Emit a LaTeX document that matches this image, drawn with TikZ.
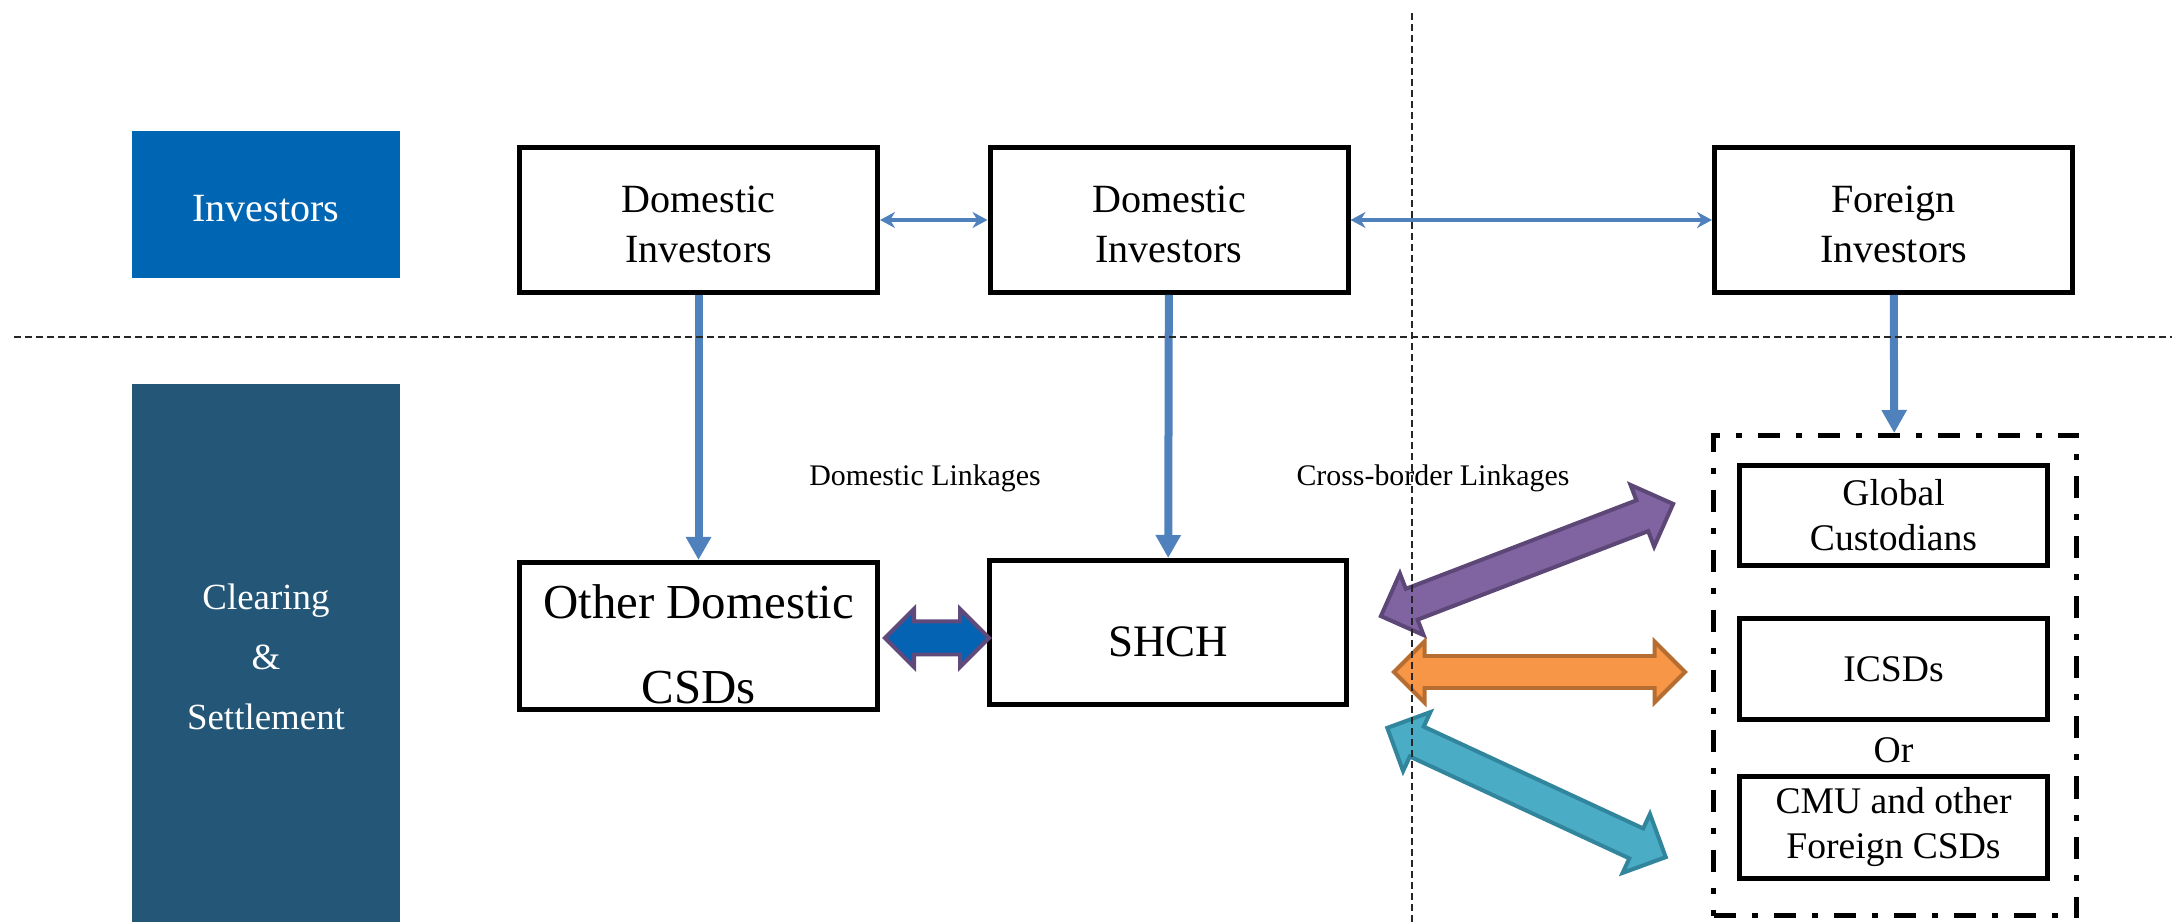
\documentclass[tikz,border=0pt]{standalone}
\usepackage{fontspec}
\setmainfont{Liberation Serif}
\usetikzlibrary{positioning, arrows.meta, shapes.arrows}
\definecolor{invblue}{HTML}{0066B3}
\definecolor{clrblue}{HTML}{245678}
\definecolor{linkblue}{HTML}{4F81BD}
\definecolor{bluefill}{HTML}{0563B4}
\definecolor{blueline}{HTML}{5F4A7B}
\definecolor{purplefill}{HTML}{8064A2}
\definecolor{purpleline}{HTML}{5C4776}
\definecolor{orangefill}{HTML}{F79646}
\definecolor{orangeline}{HTML}{B66D31}
\definecolor{tealfill}{HTML}{4BACC6}
\definecolor{tealline}{HTML}{31859C}
\tikzset{>={Stealth[length=0.15cm,width=0.16cm]},
every node/.style={align=center},
band/.style={fill=#1, text=white, minimum width=2.68cm, inner sep=0pt},
party/.style={draw, line width=0.05cm, minimum width=3.58cm, minimum height=1.45cm},
partytext/.style={font=\fontsize{11.4}{14.2}\selectfont},
agent/.style={draw, line width=0.05cm, minimum width=3.08cm, minimum height=1cm, font=\fontsize{10.7}{12.8}\selectfont},
link/.style={<->, draw=linkblue, line width=0.045cm},
feed/.style={-{Triangle[length=0.23cm,width=0.24cm]}, draw=linkblue, line width=0.08cm},
fat/.style={double arrow, fill=#1fill, draw=#1line, line width=0.04cm, inner xsep=0pt, minimum width=0pt},
guide/.style={dash pattern=on 0.07cm off 0.04cm, line width=0.015cm, black!85},
}

\begin{document}
\begin{tikzpicture}
    \useasboundingbox (0,0) rectangle (21.72,-9.22);
        % left bands
        \node[band=invblue, minimum height=1.47cm] (inv) at (2.66,-2.045) {};
        \node[text=white, font=\fontsize{11.4}{14}\selectfont] (inv_txt) at ([yshift=-0.04cm]inv.center) {Investors};
        \node[band=clrblue, minimum height=5.46cm, font=\fontsize{10.5}{17.1}\selectfont] (clr) at (2.66,-6.57) {Clearing\\\&\\Settlement};
        % investors
        \node[party] (dom_1) at (6.985,-2.2) {};
        \node[partytext] (dom_1_txt) at ([yshift=-0.04cm]dom_1.center) {Domestic\\Investors};
        \node[party] (dom_2) at (11.69,-2.2) {};
        \node[partytext] (dom_2_txt) at ([yshift=-0.04cm]dom_2.center) {Domestic\\Investors};
        \node[party] (for_1) at (18.935,-2.2) {};
        \node[partytext] (for_1_txt) at ([yshift=-0.04cm]for_1.center) {Foreign\\Investors};
        % settlement
        \node[party, minimum height=1.47cm] (ocsd) at (6.985,-6.36) {};
        \node[font=\fontsize{13.9}{24.2}\selectfont] (ocsd_txt) at ([yshift=-0.08cm]ocsd.center) {Other Domestic\\CSDs};
        \node[party, minimum width=3.57cm, minimum height=1.44cm] (shch) at (11.68,-6.325) {};
        \node[font=\fontsize{12.8}{15}\selectfont] (shch_txt) at ([yshift=-0.09cm]shch.center) {SHCH};
        \node[draw, line width=0.05cm, dash pattern=on 0.22cm off 0.16cm on 0.06cm off 0.16cm, minimum width=3.63cm, minimum height=4.8cm] (abroad) at (18.95,-6.755) {};
        \node[agent] (glob) at (18.935,-5.155) {Global\\Custodians};
        \node[agent] (icsd) at (18.935,-6.69) {ICSDs};
        \node[font=\fontsize{10.7}{12.8}\selectfont] (or) at (18.935,-7.5) {Or};
        \node[agent] (cmu) at (18.935,-8.275) {CMU and other\\Foreign CSDs};
        % link labels
        \node[font=\fontsize{8.5}{10}\selectfont] (dom_lbl) at (9.25,-4.78) {Domestic Linkages};
        \node[font=\fontsize{8.5}{10}\selectfont] (cb_lbl) at (14.33,-4.78) {Cross-border Linkages};
        % fat links
        \node[fat=blue, inner ysep=0.145cm, double arrow head extend=0.125cm, minimum height=1.04cm] (blue_link) at (9.37,-6.38) {};
        \node[fat=purple, inner ysep=0.145cm, double arrow head extend=0.165cm, minimum height=3.13cm, rotate=21] (purple_link) at (15.27,-5.6) {};
        \node[fat=orange, inner ysep=0.14cm, double arrow head extend=0.145cm, minimum height=2.91cm] (orange_link) at (15.395,-6.72) {};
        \node[fat=teal, inner ysep=0.145cm, double arrow head extend=0.16cm, minimum height=3.07cm, rotate=-24.9] (teal_link) at (15.265,-7.925) {};
        \draw
        (dom_1) edge[link] (dom_2)
        (dom_2) edge[link] (for_1)
        (dom_1) edge[feed] (ocsd)
        (dom_2) edge[feed] (shch)
        (for_1) edge[feed] (abroad)
        ;
        % section guides
        \coordinate (h_l) at (0.14,-3.37);
        \coordinate (h_r) at (21.72,-3.37);
        \coordinate (v_t) at (14.12,-0.13);
        \coordinate (v_b) at (14.12,-9.22);
        \draw[guide] (h_l) -- (h_r);
        \draw[guide] (v_t) -- (v_b);
    \end{tikzpicture}
\end{document}
